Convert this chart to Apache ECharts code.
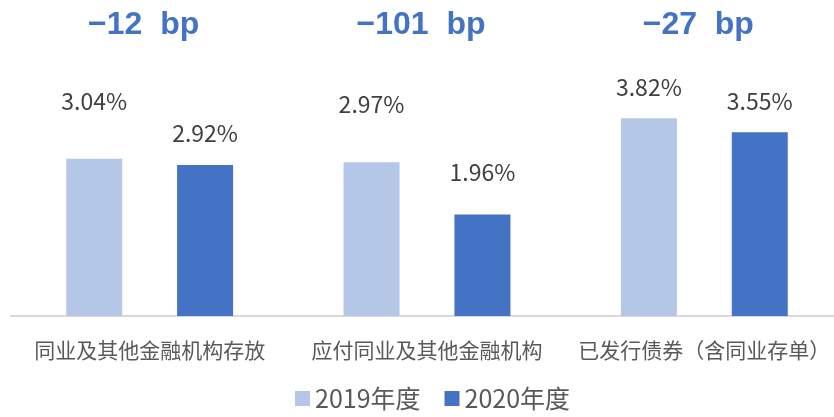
<!DOCTYPE html>
<html>
<head>
<meta charset="utf-8">
<script src="https://cdn.jsdelivr.net/npm/echarts@6/dist/echarts.min.js"></script>
<style>
  html, body { margin: 0; padding: 0; background: #fff; }
  #chart { width: 834px; height: 417px; }
</style>
</head>
<body>
<div id="chart"></div>
<script>
// 类别
const categories = ['同业及其他金融机构存放', '应付同业及其他金融机构', '已发行债券（含同业存单）'];
// 两年利率 (%)
const rate2019 = [3.04, 2.97, 3.82];
const rate2020 = [2.92, 1.96, 3.55];
// 变动 (bp)
const changeBp = ['−12  bp', '−101  bp', '−27  bp'];

// 标签离柱顶的距离 (样式)
const lift2019 = [46, 47, 20];
const lift2020 = [20, 31, 20];

const FONT = '"Noto Sans CJK SC", "Noto Sans", sans-serif';

function withLift(values, lifts) {
    return values.map((v, i) => ({ value: v, label: { distance: lifts[i] } }));
}

const chart = echarts.init(document.getElementById('chart'));

const option = {
    animation: false,
    //画布
    grid: {
        left: 11,
        width: 832,
        top: 5.5,
        bottom: 101,
        outerBoundsMode: 'none'
    },
    legend: {
        bottom: 1,
        left: 290,
        itemWidth: 15,
        itemHeight: 15,
        itemGap: 24,
        icon: 'rect',
        textStyle: { fontFamily: FONT, fontSize: 25, color: '#595959' },
        data: ['2019年度', '2020年度']
    },
    xAxis: {
        type: 'category',
        data: categories,
        axisLine: { lineStyle: { color: '#d9d9d9', width: 2 } },
        axisTick: { show: false },
        axisLabel: { interval: 0, fontFamily: FONT, fontSize: 21, color: '#595959', margin: 24 }
    },
    yAxis: {
        type: 'value',
        min: 0,
        max: 6,
        show: false
    },
    series: [
        {
            name: '2019年度',
            type: 'bar',
            barWidth: 56,
            barGap: '98%',
            itemStyle: { color: '#B4C7E7' },
            label: {
                show: true,
                position: 'top',
                fontFamily: FONT,
                fontSize: 23,
                color: '#404040',
                formatter: p => p.value.toFixed(2) + '%'
            },
            data: withLift(rate2019, lift2019)
        },
        {
            name: '2020年度',
            type: 'bar',
            barWidth: 56,
            itemStyle: { color: '#4472C4' },
            label: {
                show: true,
                position: 'top',
                fontFamily: FONT,
                fontSize: 23,
                color: '#404040',
                formatter: p => p.value.toFixed(2) + '%'
            },
            data: withLift(rate2020, lift2020)
        }
    ]
};

chart.setOption(option);

// 顶部 bp 标注，位置跟随类别中心
chart.setOption({
    graphic: changeBp.map((t, i) => ({
        type: 'text',
        x: chart.convertToPixel({ xAxisIndex: 0 }, categories[i]) - 6,
        y: 25,
        style: {
            text: t,
            fill: '#4472C4',
            font: 'bold 32px "Liberation Sans", Arial, sans-serif',
            align: 'center',
            verticalAlign: 'middle'
        }
    }))
});
</script>
</body>
</html>
